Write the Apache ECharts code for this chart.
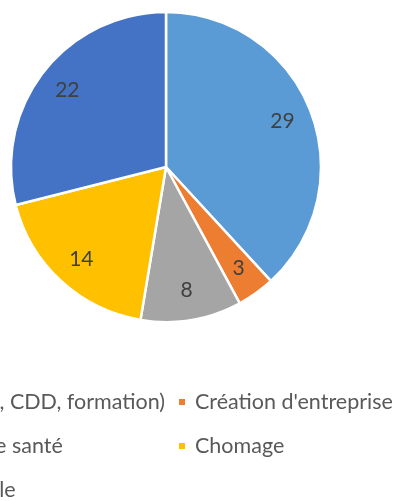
<!DOCTYPE html>
<html>
<head>
<meta charset="utf-8">
<script src="https://cdn.jsdelivr.net/npm/echarts@6/dist/echarts.min.js"></script>
<style>
  html, body { margin: 0; padding: 0; background: #fff; }
  #chart { width: 402px; height: 501px; }
</style>
</head>
<body>
<div id="chart"></div>
<script>
const categories = [
  'Emploi (CDI, CDD, formation)',
  "Création d'entreprise",
  'Problème de santé',
  'Chomage',
  'Vie de famille'
];
const values = [29, 3, 8, 14, 22];
const colors = ['#5B9BD5', '#ED7D31', '#A5A5A5', '#FFC000', '#4472C4'];

const pieData = categories.map((name, i) => ({
  name: name,
  value: values[i],
  itemStyle: { color: colors[i] }
}));

const chart = echarts.init(document.getElementById('chart'), null, { renderer: 'canvas' });

const font = 'Lato, "Open Sans", sans-serif';
const legendText = {
  color: '#595959',
  fontSize: 21.5,
  fontFamily: font,
  lineHeight: 24,
  padding: [0, 0, 0, 4]
};

function legendCol(items, pos) {
  return Object.assign({
    orient: 'vertical',
    align: 'left',
    top: 390,
    height: 140,
    padding: 0,
    itemGap: 20,
    itemWidth: 8,
    itemHeight: 8,
    icon: 'rect',
    data: items,
    textStyle: legendText
  }, pos);
}

chart.setOption({
  animation: false,
  legend: [
    // left column is wider than the view, its right edge ends near x=165
    legendCol([categories[0], categories[2], categories[4]], { right: 237 }),
    legendCol([categories[1], categories[3]], { left: 177 })
  ],
  series: [
    {
      type: 'pie',
      center: [166, 167],
      radius: [0, 155],
      startAngle: 90,
      clockwise: true,
      label: { show: false },
      labelLine: { show: false },
      itemStyle: { borderColor: '#fff', borderWidth: 2.5 },
      emphasis: { disabled: true },
      data: pieData
    },
    {
      // transparent ring used only to place the value labels at ~0.8 r
      type: 'pie',
      center: [166, 167],
      radius: [89, 155],
      startAngle: 90,
      clockwise: true,
      silent: true,
      legendHoverLink: false,
      itemStyle: { color: 'rgba(0,0,0,0)', borderWidth: 0 },
      label: {
        show: true,
        position: 'inside',
        formatter: '{c}',
        color: '#404040',
        fontSize: 21,
        fontFamily: font
      },
      labelLine: { show: false },
      emphasis: { disabled: true },
      data: values.map((v, i) => ({ name: categories[i], value: v }))
    }
  ]
});
</script>
</body>
</html>
